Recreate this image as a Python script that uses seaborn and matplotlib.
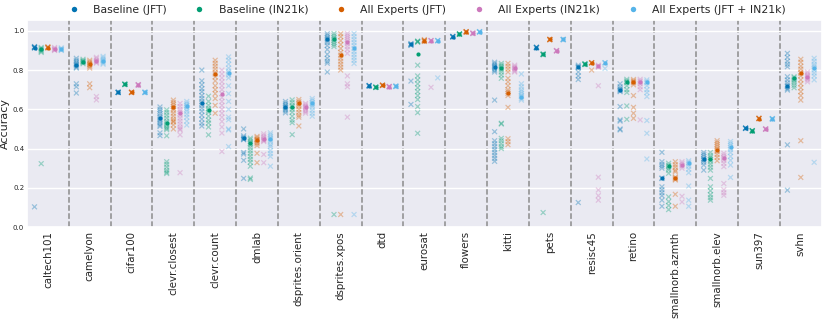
import matplotlib
matplotlib.use("Agg")
import matplotlib.pyplot as plt
import numpy as np
import pandas as pd
import seaborn as sns

tasks = ["caltech101", "camelyon", "cifar100", "clevr.closest", "clevr.count",
         "dmlab", "dsprites.orient", "dsprites.xpos", "dtd", "eurosat", "flowers",
         "kitti", "pets", "resisc45", "retino", "smallnorb.azmth", "smallnorb.elev",
         "sun397", "svhn"]

methods = ["Baseline (JFT)", "Baseline (IN21k)", "All Experts (JFT)",
           "All Experts (IN21k)", "All Experts (JFT + IN21k)"]

colors = ["#0173b2", "#029e73", "#d55e00", "#cc78bc", "#56b4e9"]

# individual runs, one list per task (same order as tasks)
baseline_jft_runs = [
    [0.918, 0.915, 0.912, 0.920, 0.916, 0.914, 0.103],
    [0.860, 0.850, 0.842, 0.835, 0.828, 0.822, 0.815, 0.810, 0.730, 0.715, 0.683],
    [0.686, 0.688, 0.685, 0.687, 0.686],
    [0.612, 0.600, 0.590, 0.578, 0.565, 0.556, 0.548, 0.540, 0.530, 0.520, 0.513, 0.480, 0.466],
    [0.800, 0.745, 0.725, 0.705, 0.690, 0.670, 0.655, 0.640, 0.630, 0.620, 0.605, 0.590, 0.570, 0.550, 0.530, 0.515],
    [0.500, 0.465, 0.458, 0.452, 0.448, 0.445, 0.380, 0.372, 0.340, 0.248],
    [0.640, 0.630, 0.622, 0.615, 0.608, 0.600, 0.592, 0.582],
    [0.985, 0.975, 0.965, 0.958, 0.950, 0.940, 0.925, 0.905, 0.880, 0.860, 0.845, 0.835, 0.790],
    [0.720, 0.722, 0.718, 0.721, 0.719],
    [0.935, 0.932, 0.928, 0.930, 0.926, 0.744, 0.625],
    [0.970, 0.972, 0.968, 0.971, 0.969],
    [0.840, 0.832, 0.825, 0.818, 0.812, 0.805, 0.798, 0.790, 0.647, 0.486, 0.440, 0.425, 0.410, 0.395, 0.380, 0.365, 0.350, 0.335],
    [0.915, 0.917, 0.913, 0.916, 0.914],
    [0.825, 0.818, 0.815, 0.812, 0.790, 0.770, 0.752, 0.125],
    [0.730, 0.715, 0.705, 0.700, 0.695, 0.690, 0.614, 0.546, 0.540, 0.500, 0.495],
    [0.381, 0.333, 0.320, 0.310, 0.300, 0.250, 0.247, 0.205, 0.190, 0.175, 0.160, 0.137, 0.106],
    [0.380, 0.370, 0.360, 0.350, 0.345, 0.340, 0.330, 0.316, 0.290],
    [0.504, 0.503, 0.505, 0.502, 0.504],
    [0.885, 0.865, 0.845, 0.830, 0.817, 0.766, 0.750, 0.735, 0.722, 0.715, 0.705, 0.698, 0.419, 0.188],
]
baseline_in21k_runs = [
    [0.915, 0.910, 0.905, 0.900, 0.895, 0.890, 0.323],
    [0.855, 0.848, 0.842, 0.838, 0.832, 0.845],
    [0.727, 0.728, 0.726, 0.727, 0.729],
    [0.597, 0.585, 0.570, 0.555, 0.540, 0.530, 0.520, 0.510, 0.503, 0.496, 0.465, 0.333, 0.320, 0.305, 0.290, 0.280, 0.273],
    [0.667, 0.640, 0.620, 0.605, 0.595, 0.585, 0.565, 0.545, 0.530, 0.510, 0.470],
    [0.453, 0.445, 0.435, 0.427, 0.418, 0.405, 0.390, 0.376, 0.360, 0.345, 0.330, 0.310, 0.250, 0.243],
    [0.648, 0.635, 0.620, 0.612, 0.600, 0.585, 0.565, 0.545, 0.532, 0.471],
    [0.986, 0.975, 0.965, 0.958, 0.950, 0.940, 0.930, 0.920, 0.064],
    [0.712, 0.713, 0.711, 0.712, 0.714],
    [0.948, 0.946, 0.944, 0.942, 0.825, 0.770, 0.750, 0.730, 0.710, 0.690, 0.670, 0.650, 0.614, 0.583, 0.478],
    [0.983, 0.984, 0.982, 0.983, 0.985],
    [0.834, 0.825, 0.818, 0.810, 0.802, 0.790, 0.775, 0.758, 0.529, 0.525, 0.452, 0.440, 0.425, 0.410, 0.400],
    [0.880, 0.882, 0.878, 0.881, 0.879, 0.074],
    [0.830, 0.832, 0.828, 0.831, 0.829],
    [0.753, 0.745, 0.740, 0.735, 0.720, 0.700, 0.686, 0.617, 0.549],
    [0.325, 0.315, 0.310, 0.300, 0.290, 0.274, 0.154, 0.130, 0.110, 0.089],
    [0.380, 0.365, 0.355, 0.345, 0.335, 0.320, 0.305, 0.290, 0.248, 0.205, 0.185, 0.165, 0.150, 0.137],
    [0.490, 0.491, 0.489, 0.490, 0.492],
    [0.766, 0.760, 0.752, 0.745, 0.735, 0.722, 0.710],
]
experts_jft_runs = [
    [0.918, 0.916, 0.914, 0.912, 0.917],
    [0.850, 0.842, 0.836, 0.830, 0.825, 0.818, 0.810, 0.730, 0.710],
    [0.686, 0.687, 0.685, 0.686, 0.688],
    [0.647, 0.635, 0.625, 0.614, 0.605, 0.595, 0.580, 0.565, 0.550, 0.535, 0.520, 0.540, 0.500],
    [0.850, 0.835, 0.820, 0.805, 0.790, 0.780, 0.765, 0.745, 0.720, 0.700, 0.680, 0.655, 0.620, 0.580],
    [0.462, 0.455, 0.448, 0.445, 0.440, 0.432, 0.425, 0.415, 0.376, 0.328],
    [0.650, 0.640, 0.632, 0.625, 0.615, 0.600, 0.585, 0.570, 0.560, 0.515],
    [0.985, 0.970, 0.950, 0.930, 0.910, 0.890, 0.876, 0.860, 0.845, 0.830, 0.815, 0.800, 0.064],
    [0.722, 0.723, 0.721, 0.722, 0.724],
    [0.955, 0.952, 0.950, 0.948, 0.946],
    [0.995, 0.996, 0.994, 0.995, 0.993],
    [0.834, 0.820, 0.805, 0.790, 0.758, 0.740, 0.720, 0.700, 0.690, 0.681, 0.670, 0.610, 0.450, 0.435, 0.420],
    [0.956, 0.957, 0.955, 0.956, 0.954],
    [0.837, 0.838, 0.836, 0.837, 0.800],
    [0.752, 0.745, 0.740, 0.735, 0.725, 0.670, 0.610, 0.580, 0.554],
    [0.333, 0.318, 0.305, 0.290, 0.282, 0.255, 0.250, 0.245, 0.240, 0.167, 0.106],
    [0.440, 0.430, 0.420, 0.410, 0.400, 0.393, 0.385, 0.370, 0.355, 0.338],
    [0.553, 0.554, 0.552, 0.553, 0.555],
    [0.855, 0.840, 0.820, 0.805, 0.790, 0.783, 0.770, 0.750, 0.730, 0.710, 0.690, 0.670, 0.647, 0.440, 0.253],
]
experts_in21k_runs = [
    [0.915, 0.910, 0.905, 0.900, 0.903],
    [0.865, 0.858, 0.850, 0.845, 0.840, 0.835, 0.665, 0.648],
    [0.724, 0.725, 0.723, 0.724, 0.726],
    [0.630, 0.615, 0.600, 0.590, 0.580, 0.570, 0.555, 0.540, 0.525, 0.510, 0.500, 0.495, 0.470, 0.277],
    [0.800, 0.780, 0.760, 0.740, 0.720, 0.700, 0.680, 0.660, 0.640, 0.620, 0.600, 0.580, 0.560, 0.538, 0.510, 0.479, 0.385],
    [0.475, 0.465, 0.458, 0.450, 0.445, 0.440, 0.436, 0.370, 0.328],
    [0.630, 0.622, 0.615, 0.610, 0.603, 0.595, 0.588, 0.580],
    [0.986, 0.975, 0.965, 0.955, 0.944, 0.935, 0.920, 0.905, 0.885, 0.770, 0.730, 0.715, 0.560],
    [0.715, 0.716, 0.714, 0.715, 0.717],
    [0.950, 0.951, 0.949, 0.950, 0.712],
    [0.987, 0.988, 0.986, 0.987, 0.989],
    [0.825, 0.818, 0.812, 0.808, 0.802, 0.795, 0.790],
    [0.898, 0.899, 0.897, 0.898, 0.900],
    [0.825, 0.820, 0.818, 0.815, 0.720, 0.254, 0.189, 0.160, 0.137],
    [0.753, 0.745, 0.740, 0.730, 0.715, 0.700, 0.546],
    [0.333, 0.325, 0.316, 0.310, 0.300, 0.157, 0.128],
    [0.376, 0.365, 0.355, 0.350, 0.340, 0.325, 0.308, 0.222, 0.190, 0.175, 0.162],
    [0.499, 0.500, 0.498, 0.499, 0.501],
    [0.790, 0.780, 0.772, 0.766, 0.758, 0.750, 0.740],
]
experts_both_runs = [
    [0.913, 0.908, 0.903, 0.900, 0.905],
    [0.870, 0.862, 0.855, 0.848, 0.842, 0.836, 0.830],
    [0.686, 0.687, 0.685, 0.686, 0.688],
    [0.640, 0.630, 0.622, 0.617, 0.610, 0.600, 0.590, 0.575, 0.560, 0.540, 0.520],
    [0.867, 0.850, 0.830, 0.810, 0.795, 0.786, 0.775, 0.760, 0.720, 0.680, 0.640, 0.600, 0.560, 0.547, 0.500, 0.495, 0.410],
    [0.480, 0.470, 0.460, 0.452, 0.445, 0.435, 0.420, 0.410, 0.390, 0.375, 0.360, 0.310],
    [0.655, 0.645, 0.635, 0.628, 0.620, 0.610, 0.595, 0.580, 0.565],
    [0.986, 0.970, 0.955, 0.940, 0.925, 0.910, 0.895, 0.880, 0.865, 0.850, 0.834, 0.064],
    [0.717, 0.718, 0.716, 0.717, 0.719],
    [0.950, 0.951, 0.949, 0.950, 0.760],
    [0.995, 0.996, 0.994, 0.995, 0.993],
    [0.780, 0.730, 0.715, 0.700, 0.690, 0.680, 0.670, 0.664, 0.655, 0.647],
    [0.956, 0.957, 0.955, 0.956, 0.954],
    [0.837, 0.838, 0.836, 0.808],
    [0.750, 0.742, 0.735, 0.720, 0.700, 0.685, 0.665, 0.543, 0.478, 0.347],
    [0.338, 0.330, 0.322, 0.310, 0.295, 0.277, 0.209, 0.137, 0.106],
    [0.436, 0.425, 0.415, 0.405, 0.395, 0.380, 0.360, 0.340, 0.316, 0.253],
    [0.551, 0.552, 0.550, 0.551, 0.553],
    [0.860, 0.845, 0.830, 0.820, 0.810, 0.800, 0.785, 0.770, 0.750, 0.330],
]

# highlighted (mean) accuracy per task
baseline_jft_mean = [0.915, 0.825, 0.686, 0.554, 0.630, 0.453, 0.614, 0.956, 0.720, 0.932,
                     0.970, 0.817, 0.915, 0.817, 0.700, 0.248, 0.345, 0.504, 0.720]
baseline_in21k_mean = [0.905, 0.840, 0.727, 0.529, 0.597, 0.427, 0.610, 0.960, 0.712, 0.880,
                       0.983, 0.810, 0.880, 0.830, 0.740, 0.311, 0.345, 0.490, 0.758]
experts_jft_mean = [0.915, 0.830, 0.686, 0.614, 0.780, 0.445, 0.630, 0.876, 0.722, 0.950,
                    0.995, 0.681, 0.956, 0.837, 0.740, 0.248, 0.393, 0.553, 0.783]
experts_in21k_mean = [0.905, 0.845, 0.724, 0.580, 0.680, 0.450, 0.610, 0.944, 0.715, 0.950,
                      0.987, 0.808, 0.898, 0.820, 0.740, 0.316, 0.350, 0.499, 0.766]
experts_both_mean = [0.905, 0.845, 0.686, 0.617, 0.786, 0.450, 0.630, 0.910, 0.717, 0.950,
                     0.995, 0.664, 0.956, 0.837, 0.740, 0.325, 0.410, 0.551, 0.810]

all_runs = [baseline_jft_runs, baseline_in21k_runs, experts_jft_runs,
            experts_in21k_runs, experts_both_runs]
all_means = [baseline_jft_mean, baseline_in21k_mean, experts_jft_mean,
             experts_in21k_mean, experts_both_mean]

rows = []
for m, runs in zip(methods, all_runs):
    for t, vals in zip(tasks, runs):
        for v in vals:
            rows.append((t, m, v))
runs_df = pd.DataFrame(rows, columns=["task", "method", "acc"])

rows = []
for m, means in zip(methods, all_means):
    for t, v in zip(tasks, means):
        rows.append((t, m, v))
mean_df = pd.DataFrame(rows, columns=["task", "method", "acc"])

sns.set_theme(style="darkgrid")
plt.rcParams['font.family'] = ['DejaVu Sans']

fig, ax = plt.subplots(figsize=(8.3, 3.23), dpi=100)
fig.subplots_adjust(left=0.0325, right=0.990, top=0.938, bottom=0.297)

sns.stripplot(data=runs_df, x="task", y="acc", hue="method", order=tasks,
              hue_order=methods, palette=colors, dodge=True, jitter=False,
              marker="x", size=3.5, linewidth=0.9, alpha=0.35, legend=False, ax=ax)
sns.stripplot(data=mean_df, x="task", y="acc", hue="method", order=tasks,
              hue_order=methods, palette=colors, dodge=True, jitter=False,
              marker="o", size=3, linewidth=0, ax=ax)

for i in range(len(tasks) - 1):
    ax.axvline(i + 0.5, color="#8c8c8c", linestyle="--", linewidth=1.1, zorder=0.5)

ax.xaxis.grid(False)
ax.set_xlim(-0.5, len(tasks) - 0.5)
ax.set_ylim(0, 1.055)
ax.set_yticks([0.0, 0.2, 0.4, 0.6, 0.8, 1.0])
ax.tick_params(axis="y", labelsize=5, pad=2, length=0)
ax.tick_params(axis="x", labelsize=7.4, rotation=90, pad=3, length=0)
ax.set_xlabel("")
ax.set_ylabel("Accuracy", fontsize=8, labelpad=2)

sns.move_legend(ax, "lower center", bbox_to_anchor=(0.5, 1.0), ncol=5,
                frameon=False, title=None, fontsize=7.8, borderaxespad=0.1,
                markerscale=1.3)

plt.savefig("out.png", dpi=100)
